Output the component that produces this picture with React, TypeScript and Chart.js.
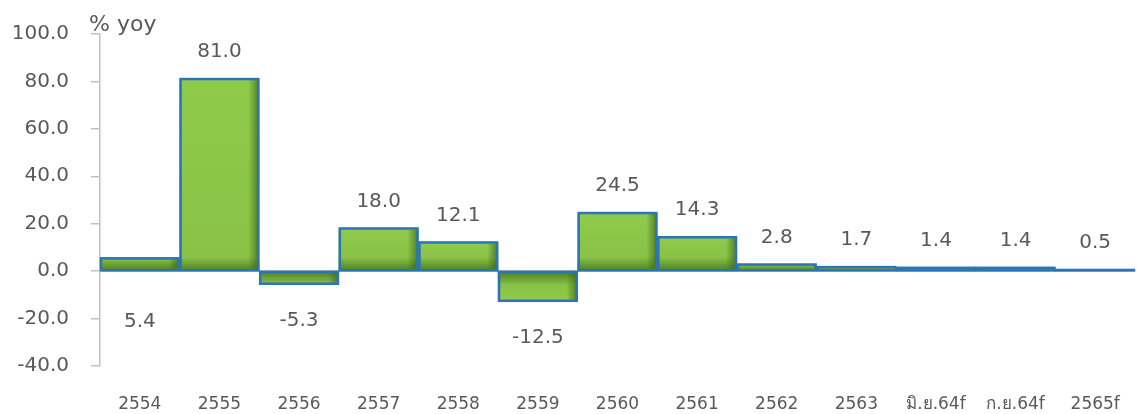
import { useEffect, useRef } from "react";
import { Chart, registerables } from "chart.js";

Chart.register(...registerables);

const categories = ["2554", "2555", "2556", "2557", "2558", "2559", "2560", "2561", "2562", "2563", "มิ.ย.64f", "ก.ย.64f", "2565f"];
const growth = [5.4, 81.0, -5.3, 18.0, 12.1, -12.5, 24.5, 14.3, 2.8, 1.7, 1.4, 1.4, 0.5];
const yMin = -40;
const yMax = 100;
const yStep = 20;
const axisTitle = "% yoy";

const FONT = "'DejaVu Sans', 'Noto Sans', Tahoma, sans-serif";
const TEXT = "#595959";
const AXIS = "#c0c0c0";
const BORDER = "#2b74b8";
const GREEN = "#8fcb4b";
const GREEN_DARK = "#4d7d22";

const barDecor = {
  id: "barDecor",
  afterDatasetsDraw(chart: any) {
    const ctx = chart.ctx;
    const meta = chart.getDatasetMeta(0);
    const yScale = chart.scales.y;
    const zero = yScale.getPixelForValue(0);
    ctx.save();
    meta.data.forEach((bar: any, i: number) => {
      const p = bar.getProps(["x", "y", "base", "width"], true);
      const top = Math.min(p.y, p.base);
      const bottom = Math.max(p.y, p.base);
      const left = p.x - p.width / 2;
      const right = p.x + p.width / 2;
      const h = bottom - top;
      if (h > 6) {
        const g = ctx.createLinearGradient(right - 11, 0, right - 1, 0);
        g.addColorStop(0, "rgba(60,100,25,0)");
        g.addColorStop(1, "rgba(60,100,25,0.7)");
        ctx.fillStyle = g;
        ctx.fillRect(right - 11, top + 1, 10, h - 2);
      }
      ctx.strokeStyle = BORDER;
      ctx.lineWidth = 2.5;
      ctx.strokeRect(left + 1, top, p.width - 2, h);
      const v = growth[i];
      ctx.font = `20px ${FONT}`;
      ctx.fillStyle = TEXT;
      ctx.textAlign = "center";
      ctx.textBaseline = "middle";
      let ly: number;
      if (v < 0) ly = yScale.getPixelForValue(v) + 37;
      else if (i === 0) ly = zero + 51;
      else ly = yScale.getPixelForValue(v) - 27;
      ctx.fillText(v.toFixed(1), p.x, ly);
    });
    ctx.restore();
  },
  afterDraw(chart: any) {
    const ctx = chart.ctx;
    ctx.save();
    ctx.font = `22px ${FONT}`;
    ctx.fillStyle = TEXT;
    ctx.textAlign = "left";
    ctx.textBaseline = "middle";
    ctx.fillText(axisTitle, chart.chartArea.left - 11, 25);
    ctx.restore();
  },
};

export default function App() {
  const ref = useRef<HTMLCanvasElement>(null);
  useEffect(() => {
    document.body.style.margin = "0";
    const canvas = ref.current;
    if (!canvas) return;
    const chart = new Chart(canvas, {
      type: "bar",
      data: {
        labels: categories,
        datasets: [
          {
            data: growth,
            barPercentage: 1,
            categoryPercentage: 1,
            borderWidth: 0,
            backgroundColor: (c: any) => {
              const chart = c.chart;
              if (!chart.chartArea || c.raw === undefined) return GREEN;
              const y = chart.scales.y;
              const base = y.getPixelForValue(0);
              const end = y.getPixelForValue(c.raw);
              if (Math.abs(base - end) < 1) return GREEN_DARK;
              const g = chart.ctx.createLinearGradient(0, end, 0, base);
              const len = Math.abs(base - end);
              const band = Math.min(14, len) / len;
              g.addColorStop(0, GREEN);
              g.addColorStop(Math.max(0, 1 - band), "#89c247");
              g.addColorStop(1, GREEN_DARK);
              return g;
            },
          },
        ],
      },
      options: {
        responsive: false,
        animation: false,
        layout: { padding: { top: 33, right: 2, left: 0, bottom: 0 } },
        plugins: { legend: { display: false }, tooltip: { enabled: false } },
        scales: {
          x: {
            grid: { display: false, drawTicks: false },
            border: { display: false },
            ticks: { font: { family: FONT, size: 17 }, color: TEXT, padding: 28, maxRotation: 0, autoSkip: false },
            afterFit: (s: any) => {
              s.height = 48;
              s.paddingLeft = 0;
              s.paddingRight = 0;
            },
          },
          y: {
            min: yMin,
            max: yMax,
            ticks: {
              stepSize: yStep,
              font: { family: FONT, size: 20 },
              color: TEXT,
              padding: 22,
              callback: (v: any) => Number(v).toFixed(1),
            },
            grid: {
              color: (c: any) => (c.tick && c.tick.value === 0 ? AXIS : "rgba(0,0,0,0)"),
              lineWidth: 1.5,
              tickColor: AXIS,
              tickLength: 9,
            },
            border: { color: AXIS, width: 1.5 },
            afterFit: (s: any) => {
              s.width = 100;
            },
          },
        },
      },
      plugins: [barDecor],
    } as any);
    return () => chart.destroy();
  }, []);
  return <canvas ref={ref} width={1137} height={414} style={{ display: "block" }} />;
}
